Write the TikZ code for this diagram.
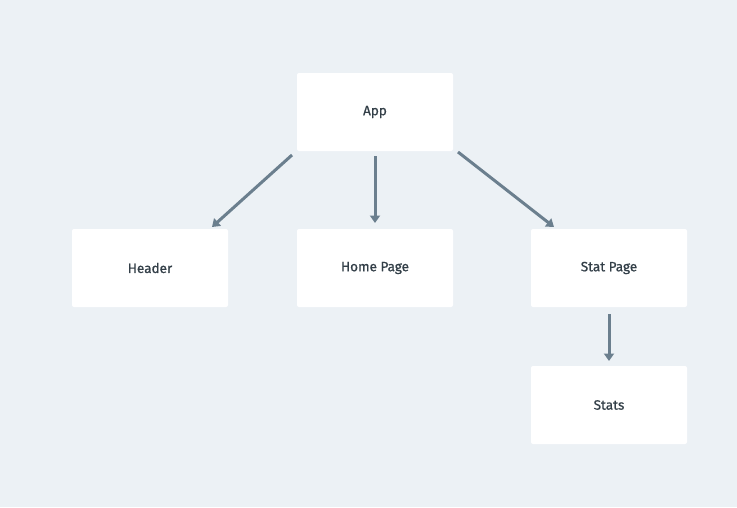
\documentclass[tikz,border=0pt]{standalone}
\usepackage{fontspec}
\setmainfont{Fira Sans}
\newfontfamily\labfont{Fira Sans}[FakeBold=0.9]
\usetikzlibrary{arrows.meta}
\definecolor{bg}{HTML}{ECF1F5}
\definecolor{arr}{HTML}{6B7F8E}
\definecolor{txt}{HTML}{333F48}
\tikzset{
  box/.style={fill=white, rounded corners=2pt, minimum width=156pt, minimum height=78pt,
    inner sep=0pt, text=txt, font=\labfont\fontsize{13.5}{15}\selectfont, draw=none},
  link/.style={draw=arr, line width=3pt, -{Triangle[width=10pt,length=7.5pt]}}
}
\begin{document}
\begin{tikzpicture}[x=1pt,y=-1pt]
\fill[bg] (0,0) rectangle (737,507);
\useasboundingbox (0,0) rectangle (737,507);
\node[box] (app) at (375,112) {App};
\node[box] (header) at (150,268) {Header};
\node[box] (home) at (375,268) {Home Page};
\node[box] (stat) at (609,268) {Stat Page};
\node[box] (stats) at (609,405) {Stats};
\coordinate (s1) at (292,155);
\coordinate (e1) at (212,227);
\coordinate (s2) at (375,156);
\coordinate (e2) at (375,223);
\coordinate (s3) at (458,152);
\coordinate (e3) at (554,227);
\coordinate (s4) at (609,314);
\coordinate (e4) at (609,361);
\draw[link] (s1) -- (e1);
\draw[link] (s2) -- (e2);
\draw[link] (s3) -- (e3);
\draw[link] (s4) -- (e4);
\end{tikzpicture}
\end{document}
